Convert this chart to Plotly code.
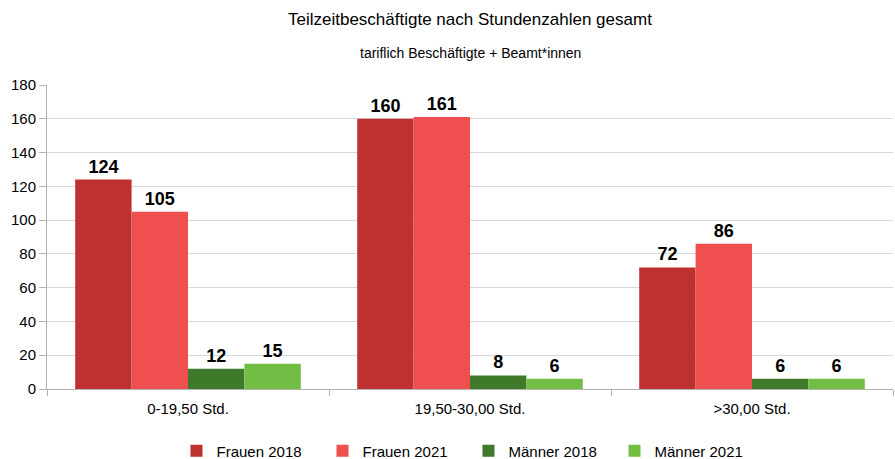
import plotly.graph_objects as go

categories = ["0-19,50 Std.", "19,50-30,00 Std.", ">30,00 Std."]
series_names = ["Frauen 2018", "Frauen 2021", "Männer 2018", "Männer 2021"]
frauen_2018 = [124, 160, 72]
frauen_2021 = [105, 161, 86]
maenner_2018 = [12, 8, 6]
maenner_2021 = [15, 6, 6]
y_ticks = [0, 20, 40, 60, 80, 100, 120, 140, 160, 180]

colors = ["#BE3131", "#F04F4F", "#3F7A2A", "#72BE44"]
values = [frauen_2018, frauen_2021, maenner_2018, maenner_2021]

FONT = "Liberation Sans, Arial"
W, H = 895, 459

fig = go.Figure()
for name, vals, col in zip(series_names, values, colors):
    fig.add_trace(go.Bar(
        x=categories, y=vals, name=name,
        marker=dict(color=col, line=dict(width=0)),
        text=["<b>%d</b>" % v for v in vals], textposition="outside",
        textfont=dict(family=FONT, size=18, color="#000000"),
        cliponaxis=False,
    ))

fig.update_layout(
    width=W, height=H, autosize=False,
    paper_bgcolor="white", plot_bgcolor="white",
    barmode="group", bargap=0.2, bargroupgap=0,
    margin=dict(l=47, r=2, t=85, b=70, autoexpand=False),
    font=dict(family=FONT, size=15, color="#000000"),
    showlegend=True,
    legend=dict(orientation="h", x=(W / 2 + 21) / W, xanchor="center", xref="container",
                y=(H - 451) / H, yanchor="middle", yref="container",
                font=dict(size=15), itemwidth=30, traceorder="normal",
                entrywidth=101, entrywidthmode="pixels"),
    annotations=[
        dict(text="Teilzeitbeschäftigte nach Stundenzahlen gesamt", xref="paper", yref="paper",
             x=0.5, y=1 + (85 - 20) / 304, xanchor="center",
             yanchor="middle", showarrow=False, font=dict(size=17, color="#000000")),
        dict(text="tariflich Beschäftigte + Beamt*innen", xref="paper", yref="paper",
             x=0.5, y=1 + (85 - 53) / 304, xanchor="center", yanchor="middle", showarrow=False,
             font=dict(size=14, color="#000000")),
    ],
)
fig.update_xaxes(
    type="category", tickson="boundaries", ticks="outside", ticklen=6,
    tickcolor="#b3b3b3", showline=True, linecolor="#b3b3b3", linewidth=1,
    showgrid=False, tickfont=dict(size=15), automargin=False, ticklabelstandoff=6,
)
fig.update_yaxes(
    range=[0, 180], tickvals=y_ticks, ticks="outside", ticklen=7,
    tickcolor="#b3b3b3", showline=True, linecolor="#b3b3b3", linewidth=1,
    showgrid=True, gridcolor="#d9d9d9", zeroline=False, tickfont=dict(size=15),
    automargin=False,
)

fig.write_html(
    "out.html",
    config={"responsive": False, "displayModeBar": False},
    post_script="document.body.style.margin='0';document.documentElement.style.overflow='hidden';",
)
